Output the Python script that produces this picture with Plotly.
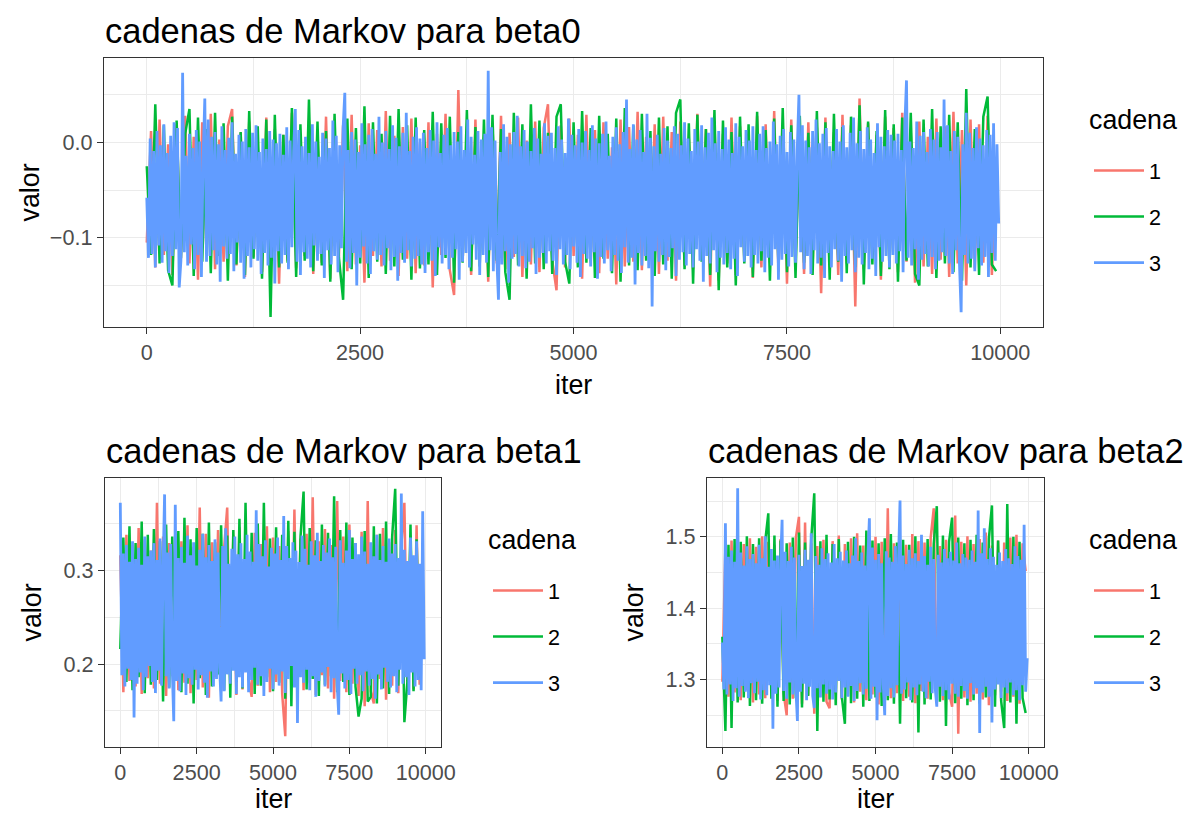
import numpy as np
import plotly.graph_objects as go

# ---- MCMC traces (thinned draws) for each coefficient and chain ----
chains = ["1", "2", "3"]
chain_colors = ["#F8766D", "#00BA38", "#619CFF"]

# beta0: chains 1 and 2 stored every 50 iterations, chain 3 every 20
beta0_c1 = [
    -.105,.012,-.131,.024,-.118,-.002,-.139,.019,-.122,.028,-.127,.006,-.144,.021,-.116,.030,-.133,.003,-.125,.017,
    .035,-.129,.010,-.141,.022,-.120,-.004,-.136,.026,-.117,.014,-.148,.008,-.124,.031,-.132,.001,-.119,.023,-.138,
    .011,-.126,.027,-.143,.005,-.121,.018,-.135,.029,-.128,-.003,-.147,.020,-.119,.013,-.130,.033,-.124,.007,-.140,
    .016,-.122,.025,-.137,-.001,-.129,.021,-.152,.009,-.118,.030,-.134,-.160,.055,-.125,.012,-.139,.024,-.121,.004,
    -.146,.019,-.127,.028,-.133,.010,-.120,.026,-.141,.002,-.128,.022,-.136,.015,.040,-.124,-.155,.018,-.131,.025,
    -.119,.008,-.143,.029,-.126,.013,-.137,.021,-.122,-.005,-.149,.024,-.130,.016,-.125,.032,-.134,.006,-.121,.019,
    -.138,.027,-.124,.011,-.145,.022,-.129,.004,-.133,.030,-.120,.014,-.151,.023,-.145,.009,-.127,.026,-.139,.017,
    -.123,.005,-.142,.028,-.131,.019,-.126,.033,-.136,.012,-.148,.024,-.122,.007,-.138,.021,-.129,.016,-.158,.026,
    -.124,.011,-.139,.029,-.127,.018,-.172,.046,-.133,.020,-.121,.008,-.144,.027,-.128,.015,-.136,.031,-.125,.010,
    -.147,.022,-.130,.006,-.138,.025,-.123,.017,-.141,.032,-.127,.013,-.150,.024,-.132,.019,-.126,.028,-.139,-.020,
]
beta0_c2 = [
    -.025,-.118,.040,-.127,.018,-.134,-.150,.023,-.121,.009,.035,-.140,.026,-.125,.014,-.137,.031,-.119,.020,-.145,
    .027,-.128,.011,-.139,.033,-.122,.017,-.143,.024,-.183,.029,-.131,.008,-.126,.036,-.141,.019,-.124,.045,-.135,
    .022,-.129,.012,-.146,.030,-.120,-.165,.025,-.133,.015,-.127,.038,-.142,.021,-.125,.009,-.138,.028,-.130,.035,
    -.123,.018,-.144,.026,-.132,.013,-.128,.032,-.139,.020,-.121,.027,-.147,.011,-.126,.034,-.135,.016,-.130,.024,
    -.141,.029,-.124,.014,-.136,-.165,.031,-.129,.019,-.143,.040,-.127,.023,-.133,.010,-.138,.027,.040,-.125,-.148,
    .021,-.131,.033,-.126,.015,-.142,.028,-.122,.009,-.137,.025,-.146,.036,-.129,.018,-.134,.030,-.124,.012,-.140,
    .026,-.128,.017,-.143,.031,.045,-.133,.020,-.148,.029,-.125,.014,-.139,.034,-.155,.023,-.131,.011,-.150,.027,
    -.127,.019,-.141,.032,-.124,.013,-.145,.025,-.130,.036,-.136,.018,-.142,.028,-.126,.010,-.139,.033,-.129,.021,
    -.144,.030,-.125,.016,-.137,.027,-.131,.039,-.149,.022,-.128,.012,-.140,.034,-.133,.019,-.146,.026,-.124,.031,
    -.138,-.150,.024,-.130,.035,-.142,.017,-.127,.029,-.136,.021,-.145,.056,-.131,.014,-.139,.027,.048,-.128,-.135,
]
beta0_c3 = [
    -.058,-.121,.004,-.117,-.009,-.131,.012,-.108,-.003,-.126,.019,-.114,-.011,-.137,.007,-.119,.021,-.112,.015,-.152,
    -.124,.073,-.115,-.014,-.129,.009,-.107,-.006,-.133,.013,-.118,.001,-.141,-.016,.046,-.125,.024,-.119,.006,-.113,
    .011,-.128,-.002,-.146,.017,-.109,-.008,-.122,.005,-.117,.021,-.135,-.012,-.105,.008,-.126,.001,-.143,.014,-.119,
    -.005,-.131,.010,-.112,.018,-.124,-.010,-.138,.004,-.116,-.007,-.129,.012,-.121,.003,-.148,-.001,-.114,.009,-.127,
    -.013,-.118,.016,-.133,.002,-.110,-.009,.035,-.125,.013,-.139,-.004,-.115,.006,-.122,-.011,-.131,.019,-.108,.001,
    -.124,-.015,-.117,.010,-.142,.004,-.113,-.006,-.128,.023,-.119,.007,-.136,-.003,-.111,.015,.052,-.125,-.008,-.132,
    .011,-.116,.003,-.150,-.010,-.121,.020,-.109,-.002,-.127,.008,-.138,.014,-.114,-.012,-.123,.027,-.118,.000,-.129,
    .012,-.111,-.007,-.134,.018,-.120,.005,-.145,-.004,-.116,.010,-.126,.031,-.113,-.009,-.130,.006,-.122,.016,-.119,
    .004,-.128,.010,-.137,-.006,-.115,.013,-.124,.002,-.140,.021,-.110,-.011,-.127,.008,-.118,.015,-.133,-.003,-.121,
    .011,-.112,.001,-.144,.017,-.125,-.008,-.116,.024,-.131,.006,-.107,-.013,-.123,.012,-.139,.003,-.118,.009,-.126,
    .075,-.113,.016,-.135,.002,-.120,-.165,-.010,-.128,.019,-.114,.006,-.147,-.002,-.122,.011,-.117,.028,-.130,-.004,
    -.119,.013,-.132,.001,-.125,-.009,-.111,.015,-.138,.004,-.121,-.012,-.116,.020,-.127,.007,-.114,.010,-.124,-.006,
    -.139,.017,-.112,.003,-.128,-.011,-.118,.025,-.133,.008,-.109,-.003,-.126,.014,-.141,.000,-.117,.012,-.122,-.008,
    -.130,.018,-.115,.004,-.143,-.001,-.120,.009,-.127,.022,-.113,-.014,-.135,.006,-.118,.016,-.124,-.002,-.137,.011,
    -.110,.045,-.126,-.007,-.121,.019,-.149,.003,-.116,.013,-.129,-.010,-.119,.030,-.132,.005,-.172,-.004,-.114,.008,
    -.125,-.012,-.118,.015,-.134,.002,-.120,-.006,-.111,.017,-.140,.009,-.123,-.003,-.115,.021,-.129,.004,-.117,-.009,
    -.131,.014,-.112,.001,-.124,.018,-.146,-.005,-.119,.010,-.127,.026,-.113,-.001,-.136,.012,-.121,-.007,-.128,.016,
    -.116,.003,-.133,-.011,-.122,.020,-.140,.006,-.110,-.004,-.125,.013,-.119,.002,-.131,.017,-.118,-.008,-.127,.009,
    -.114,.017,-.136,-.006,-.121,.001,-.129,.022,-.112,-.002,-.144,.007,-.123,.014,-.117,-.010,-.130,.011,-.120,.003,
    -.126,-.008,.050,-.115,.018,-.133,.002,-.119,-.005,-.138,.012,-.113,.024,-.127,-.001,-.121,.009,-.142,.015,-.116,
    -.004,-.131,-.009,-.112,.014,-.124,.001,-.146,.018,-.119,-.005,-.127,.010,-.113,.026,-.136,-.001,-.121,.012,-.128,
    -.007,-.116,.016,-.133,.003,-.122,-.011,-.140,.020,-.110,.006,-.125,-.004,-.119,.013,-.131,.008,-.118,.002,-.127,
    .009,-.114,-.008,-.136,.017,.065,-.121,.001,-.129,-.006,-.112,.022,-.144,.007,-.123,.011,-.117,-.010,-.130,.014,
    -.120,.003,-.133,.011,-.124,-.005,-.115,.045,-.119,.018,-.127,-.009,-.138,.012,-.113,.006,-.126,-.178,-.002,-.118,
    .031,-.127,.010,-.122,-.006,-.135,.016,-.111,.004,-.129,-.003,-.120,.013,-.141,.008,-.116,.020,-.124,-.002,-.085,
]

# beta1: chains 1 and 2 stored every 100 iterations, chain 3 every 50
beta1_c1 = [
    .316,.170,.338,.182,.327,.176,.345,.168,.333,.185,.321,.174,.372,.179,.336,.166,.329,.187,.341,.172,
    .331,.180,.348,.169,.325,.183,.367,.175,.339,.164,.330,.186,.343,.171,.324,.367,.178,.337,.167,.346,
    .173,.332,.184,.165,.340,.177,.328,.189,.347,.170,.335,.181,.326,.168,.123,.342,.176,.365,.185,.334,
    .172,.339,.180,.378,.167,.331,.188,.344,.174,.327,.163,.374,.182,.336,.170,.349,.179,.329,.166,.341,
    .155,.374,.171,.158,.338,.184,.345,.162,.330,.177,.343,.169,.326,.372,.181,.337,.173,.348,.178,.320,
]
beta1_c2 = [
    .216,.335,.181,.347,.172,.329,.186,.352,.169,.338,.178,.344,.183,.331,.160,.349,.175,.336,.188,.342,
    .170,.356,.179,.333,.158,.345,.185,.339,.167,.351,.176,.330,.189,.348,.172,.337,.164,.343,.181,.355,
    .174,.372,.183,.340,.168,.350,.177,.372,.186,.334,.171,.346,.180,.338,.163,.353,.155,.341,.179,.336,
    .384,.173,.345,.184,.332,.166,.349,.178,.340,.187,.379,.170,.343,.181,.351,.167,.335,.176,.144,.163,
    .342,.160,.165,.347,.158,.339,.174,.352,.168,.336,.387,.177,.344,.138,.182,.349,.171,.333,.185,.292,
]
beta1_c3 = [
    .372,.188,.318,.176,.327,.195,.309,.183,.331,.143,.312,.179,.324,.191,.306,.172,.336,.186,.315,.198,
    .321,.181,.329,.169,.311,.193,.334,.177,.303,.381,.187,.319,.174,.328,.196,.139,.370,.182,.313,.171,
    .325,.190,.308,.167,.337,.185,.316,.178,.330,.194,.305,.173,.322,.188,.339,.180,.314,.164,.327,.192,
    .310,.176,.333,.184,.319,.197,.160,.326,.171,.345,.189,.307,.179,.323,.193,.336,.168,.317,.186,.329,
    .175,.312,.191,.338,.170,.320,.183,.309,.196,.364,.178,.328,.187,.315,.166,.332,.181,.304,.195,.324,
    .173,.318,.189,.335,.177,.311,.192,.358,.169,.326,.184,.313,.198,.330,.175,.321,.137,.309,.186,.337,
    .180,.323,.194,.306,.172,.331,.187,.316,.165,.340,.182,.310,.191,.327,.176,.319,.197,.334,.170,.314,
    .185,.325,.178,.146,.332,.190,.308,.174,.321,.183,.343,.168,.312,.195,.329,.179,.317,.188,.336,.171,
    .320,.192,.307,.177,.330,.184,.315,.163,.338,.189,.311,.173,.326,.196,.309,.181,.334,.175,.318,.187,
    .328,.170,.313,.194,.382,.179,.322,.186,.310,.167,.335,.191,.316,.176,.331,.183,.307,.172,.363,.205,
]

# beta2: chains 1 and 2 stored every 100 iterations, chain 3 every 50
beta2_c1 = [
    1.297,1.488,1.276,1.495,1.282,1.503,1.271,1.490,1.285,1.498,1.268,1.486,1.279,1.501,1.274,1.493,1.283,1.489,1.270,1.497,
    1.281,1.250,1.492,1.273,1.499,1.528,1.266,1.520,1.278,1.491,1.252,1.487,1.276,1.496,1.269,1.260,1.494,1.280,1.502,1.272,
    1.490,1.277,1.498,1.268,1.505,1.283,1.488,1.271,1.495,1.279,1.500,1.265,1.493,1.286,1.540,1.274,1.491,1.281,1.497,1.270,
    1.489,1.276,1.504,1.267,1.494,1.284,1.492,1.273,1.499,1.540,1.279,1.487,1.271,1.496,1.282,1.262,1.530,1.224,1.493,1.275,
    1.501,1.269,1.490,1.280,1.497,1.272,1.506,1.264,1.488,1.278,1.495,1.283,1.492,1.270,1.499,1.276,1.503,1.266,1.491,1.452,
]
beta2_c2 = [
    1.360,1.228,1.489,1.232,1.497,1.268,1.493,1.275,1.501,1.263,1.490,1.271,1.498,1.266,1.494,1.533,1.273,1.502,1.262,1.495,
    1.270,1.491,1.265,1.499,1.274,1.506,1.261,1.492,1.277,1.496,1.561,1.228,1.494,1.269,1.503,1.272,1.490,1.264,1.497,1.276,
    1.238,1.493,1.267,1.500,1.273,1.488,1.262,1.509,1.270,1.495,1.275,1.491,1.263,1.498,1.271,1.504,1.266,1.492,1.238,1.496,
    1.274,1.489,1.268,1.501,1.226,1.494,1.265,1.497,1.272,1.490,1.543,1.269,1.502,1.235,1.493,1.527,1.267,1.499,1.273,1.491,
    1.264,1.496,1.271,1.503,1.266,1.492,1.275,1.498,1.544,1.262,1.495,1.270,1.232,1.546,1.268,1.500,1.238,1.493,1.274,1.253,
]
beta2_c3 = [
    1.352,1.286,1.519,1.279,1.472,1.293,1.481,1.270,1.465,1.288,1.568,1.276,1.478,1.291,1.460,1.283,1.487,1.274,1.469,1.295,
    1.476,1.281,1.463,1.297,1.489,1.272,1.470,1.285,1.501,1.278,1.458,1.292,1.483,1.231,1.467,1.280,1.474,1.289,1.462,1.524,
    1.284,1.479,1.273,1.466,1.296,1.486,1.279,1.471,1.287,1.242,1.475,1.283,1.459,1.294,1.482,1.271,1.468,1.290,1.505,1.277,
    1.260,1.473,1.288,1.461,1.275,1.484,1.293,1.469,1.280,1.477,1.286,1.464,1.272,1.490,1.282,1.470,1.298,1.479,1.274,1.467,
    1.289,1.481,1.276,1.463,1.291,1.474,1.270,1.498,1.284,1.466,1.295,1.478,1.279,1.460,1.287,1.472,1.526,1.273,1.485,1.290,
    1.468,1.243,1.476,1.282,1.463,1.294,1.250,1.480,1.277,1.471,1.288,1.465,1.275,1.487,1.292,1.469,1.551,1.280,1.474,1.286,
    1.462,1.296,1.482,1.271,1.470,1.289,1.477,1.278,1.466,1.293,1.503,1.283,1.473,1.274,1.461,1.297,1.486,1.281,1.469,1.287,
    1.262,1.475,1.290,1.464,1.277,1.483,1.285,1.470,1.272,1.479,1.294,1.467,1.280,1.492,1.276,1.463,1.291,1.476,1.284,1.471,
    1.273,1.468,1.295,1.481,1.279,1.465,1.288,1.537,1.225,1.477,1.282,1.512,1.290,1.469,1.276,1.484,1.240,1.472,1.286,1.461,
    1.293,1.478,1.274,1.466,1.289,1.483,1.281,1.470,1.296,1.462,1.278,1.487,1.285,1.473,1.271,1.468,1.292,1.517,1.283,1.330,
]

N_ITER = 10000
panels = [
    ("beta0", [beta0_c1, beta0_c2, beta0_c3]),
    ("beta1", [beta1_c1, beta1_c2, beta1_c3]),
    ("beta2", [beta2_c1, beta2_c2, beta2_c3]),
]

# ---- styling ----
FONT = "Liberation Sans"
TITLE_PX, AXTITLE_PX, TICK_PX = 34.5, 26.8, 21.6
W, H = 1190, 815
LINE_W = [2.5, 2.5, 2.8]


def px_x(p):
    return p / W


def px_y(p):
    return 1 - p / H


# panel rectangles in pixels: (left, right, top, bottom)
boxes = [(104, 1043, 58, 327), (105, 441, 478, 747), (707, 1044, 478, 747)]
y_ranges = [(-0.1935, 0.0885), (0.1115, 0.3985), (1.2055, 1.5825)]
y_dticks = [0.1, 0.1, 0.1]
y_tick0 = [0.0, 0.2, 1.3]
iter_label_y = [385, 799, 799]
# legend anchors: (left x, title centre y)
legend_pos = [(1088, 120), (487, 540), (1088, 540)]

fig = go.Figure()

for p, (name, series) in enumerate(panels):
    sfx = "" if p == 0 else str(p + 1)
    leg = "legend" if p == 0 else f"legend{p + 1}"
    for c, vals in enumerate(series):
        step = N_ITER // len(vals)
        it = np.arange(len(vals)) * step + 1
        fig.add_trace(go.Scatter(
            x=it, y=vals, mode="lines",
            line=dict(color=chain_colors[c], width=LINE_W[c], simplify=False),
            name=chains[c], legendgroup=f"{name}_{chains[c]}",
            legend=leg, xaxis=f"x{sfx}", yaxis=f"y{sfx}",
            showlegend=True, hoverinfo="skip",
        ))

layout = dict(
    width=W, height=H, margin=dict(l=0, r=0, t=0, b=0, autoexpand=False),
    paper_bgcolor="white", plot_bgcolor="white",
    font=dict(family=FONT, color="black"),
    annotations=[],
)

for p, (name, _) in enumerate(panels):
    sfx = "" if p == 0 else str(p + 1)
    l, r, t, b = boxes[p]
    axis_common = dict(
        showline=True, mirror=True, linecolor="#333333", linewidth=1.4,
        ticks="outside", ticklen=6, tickwidth=1.3, tickcolor="#333333",
        tickfont=dict(family=FONT, size=TICK_PX, color="#4D4D4D"),
        showgrid=True, gridcolor="#EBEBEB", gridwidth=1.3, zeroline=False,
        automargin=False,
    )
    layout[f"xaxis{sfx}"] = dict(
        axis_common, domain=[px_x(l), px_x(r)], anchor=f"y{sfx}",
        range=[-500, 10500], tick0=0, dtick=2500, tickformat="d",
        minor=dict(tick0=0, dtick=1250, showgrid=True, gridcolor="#EBEBEB", gridwidth=0.7),
    )
    y0, y1 = y_ranges[p]
    layout[f"yaxis{sfx}"] = dict(
        axis_common, domain=[px_y(b), px_y(t)], anchor=f"x{sfx}",
        range=[y0, y1], tick0=y_tick0[p], dtick=y_dticks[p], tickformat=".1f",
        minor=dict(tick0=y_tick0[p], dtick=y_dticks[p] / 2, showgrid=True,
                   gridcolor="#EBEBEB", gridwidth=0.7),
    )
    # panel title
    layout["annotations"].append(dict(
        text=f"cadenas de Markov para {name}", xref="paper", yref="paper",
        x=px_x(l - 1), y=px_y(t - 27), xanchor="left", yanchor="middle",
        showarrow=False, font=dict(family=FONT, size=TITLE_PX, color="black"),
    ))
    # axis titles
    layout["annotations"].append(dict(
        text="iter", xref="paper", yref="paper",
        x=px_x((l + r) / 2), y=px_y(iter_label_y[p]), xanchor="center", yanchor="middle",
        showarrow=False, font=dict(family=FONT, size=AXTITLE_PX, color="black"),
    ))
    layout["annotations"].append(dict(
        text="valor", xref="paper", yref="paper", textangle=-90,
        x=px_x(l - 74), y=px_y((t + b) / 2), xanchor="center", yanchor="middle",
        showarrow=False, font=dict(family=FONT, size=AXTITLE_PX, color="black"),
    ))
    # legend title and legend
    lx, ly = legend_pos[p]
    layout["annotations"].append(dict(
        text="cadena", xref="paper", yref="paper",
        x=px_x(lx - 1), y=px_y(ly), xanchor="left", yanchor="middle",
        showarrow=False, font=dict(family=FONT, size=AXTITLE_PX, color="black"),
    ))
    layout["legend" if p == 0 else f"legend{p + 1}"] = dict(
        x=px_x(lx + 1), y=px_y(ly + 30), xanchor="left", yanchor="top",
        font=dict(family=FONT, size=TICK_PX, color="black"),
        itemwidth=50, traceorder="grouped", tracegroupgap=15,
        bgcolor="rgba(0,0,0,0)",
    )

fig.update_layout(**layout)
fig.write_html("out.html")
